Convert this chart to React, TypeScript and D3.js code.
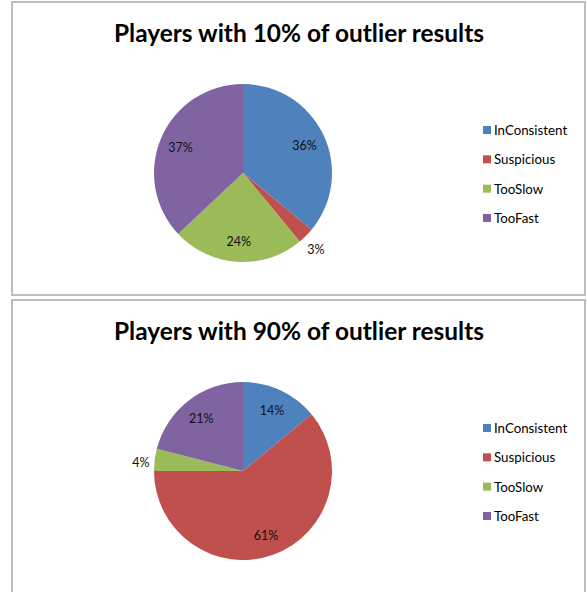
import React from "react";
import * as d3 from "d3";

const categories = ["InConsistent", "Suspicious", "TooSlow", "TooFast"];
const colors = ["#4F81BD", "#C0504D", "#9BBB59", "#8064A2"];
const titles = ["Players with 10% of outlier results", "Players with 90% of outlier results"];
const values10 = [36, 3, 24, 37];
const values90 = [14, 61, 4, 21];

const W = 587;
const H = 592;

function Panel({ top, height, title, values }: { top: number; height: number; title: string; values: number[] }) {
  const cx = 243;
  const cy = top + 171;
  const r = 89;
  const pie = d3.pie<number>().sort(null).value((d) => d);
  const arcs = pie(values);
  const arc = d3.arc<d3.PieArcDatum<number>>().innerRadius(0).outerRadius(r);
  const inLabel = d3.arc<d3.PieArcDatum<number>>().innerRadius(68).outerRadius(68);
  const outLabel = d3.arc<d3.PieArcDatum<number>>().innerRadius(103).outerRadius(103);
  const total = d3.sum(values);
  const legendY = d3.scalePoint<string>().domain(categories).range([top + 128, top + 216]);
  return (
    <g>
      <rect x={12} y={top} width={573} height={height} fill="#fff" stroke="#BDBDBD" strokeWidth={2} />
      <text
        x={299}
        y={top + 40}
        textAnchor="middle"
        fontFamily="Lato, 'Open Sans', sans-serif"
        fontWeight="bold"
        fontSize={25}
        textLength={370}
        lengthAdjust="spacingAndGlyphs"
        fill="#000"
      >
        {title}
      </text>
      <g transform={`translate(${cx},${cy})`}>
        {arcs.map((a, i) => (
          <path key={i} d={arc(a) || ""} fill={colors[i]} />
        ))}
        {arcs.map((a, i) => {
          const small = a.data / total < 0.05;
          const [x, y] = small ? outLabel.centroid(a) : inLabel.centroid(a);
          return (
            <text
              key={"l" + i}
              x={x}
              y={y + (small ? 4 : 1)}
              textAnchor="middle"
              dominantBaseline="central"
              fontFamily="Lato, 'Open Sans', sans-serif"
              fontSize={12.5}
              fill="#111"
            >
              {`${a.data}%`}
            </text>
          );
        })}
      </g>
      {categories.map((c, i) => {
        const y = legendY(c) as number;
        return (
          <g key={c}>
            <rect x={483} y={y - 4} width={8} height={8} fill={colors[i]} />
            <text
              x={494}
              y={y}
              dominantBaseline="central"
              fontFamily="Lato, 'Open Sans', sans-serif"
              fontSize={13.3}
              fill="#000"
            >
              {c}
            </text>
          </g>
        );
      })}
    </g>
  );
}

export default function App() {
  return (
    <svg
      width={W}
      height={H}
      style={{ position: "absolute", left: 0, top: 0, display: "block", background: "#fff" }}
    >
      <rect x={0} y={0} width={W} height={H} fill="#fff" />
      <Panel top={2} height={293} title={titles[0]} values={values10} />
      <Panel top={300} height={310} title={titles[1]} values={values90} />
    </svg>
  );
}
